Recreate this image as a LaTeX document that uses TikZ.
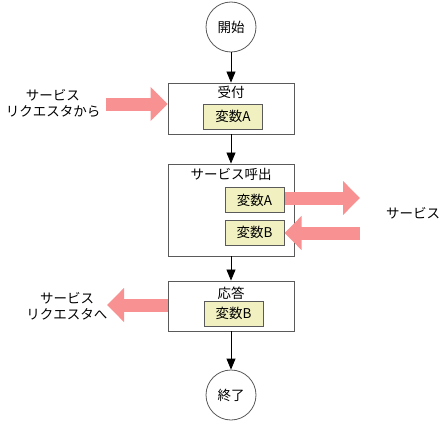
\documentclass[tikz,border=0pt]{standalone}
\usepackage{fontspec}
\setmainfont{Noto Sans CJK JP}
\usetikzlibrary{arrows.meta}
\definecolor{pinkarrow}{RGB}{248,145,145}
\definecolor{varfill}{RGB}{240,240,192}
\definecolor{edgegray}{RGB}{90,90,90}
\tikzset{
  every node/.style={font=\fontsize{13.5}{15}\selectfont, inner sep=0pt},
  term/.style={circle, draw=edgegray, line width=0.8pt, minimum size=50pt, fill=white},
  procbox/.style={draw=edgegray, line width=0.9pt, fill=white},
  varbox/.style={draw=edgegray, line width=1pt, fill=varfill, minimum width=59pt, minimum height=25pt},
  flow/.style={draw=black, line width=0.8pt, -{Triangle[length=11pt,width=9pt]}},
  fat/.style={draw=pinkarrow, line width=13pt, -{Triangle[length=17pt,width=33pt]}},
  lbl/.style={align=center}
}
\begin{document}
\begin{tikzpicture}[x=1pt,y=-1pt]
\useasboundingbox (0,0) rectangle (445,423);
% terminals
\node[term] (start) at (231,27) {開始};
\node[term] (end) at (231,395) {終了};
% boxes
\node[procbox, minimum width=126pt, minimum height=51pt] (b1) at (231,108.5) {};
\node[procbox, minimum width=126pt, minimum height=92pt] (b2) at (231,210) {};
\node[procbox, minimum width=126pt, minimum height=50pt] (b3) at (231,306) {};
% titles
\node (t1) at (231,92) {受付};
\node (t2) at (231,174.5) {サービス呼出};
\node (t3) at (231,293) {応答};
% variables
\node[varbox] (v1) at (233,116.5) {変数A};
\node[varbox] (v2a) at (254.5,200) {変数A};
\node[varbox] (v2b) at (254.5,232.5) {変数B};
\node[varbox] (v3) at (233.5,313.5) {変数B};
% flow arrows
\draw[flow] (start) -- (b1);
\draw[flow] (b1) -- (b2);
\draw[flow] (b2) -- (b3);
\draw[flow] (b3) -- (end);
% labels
\node[lbl] (reqfrom) at (53,103) {サービス\\[1pt]リクエスタから};
\node[lbl] (svc) at (413,213) {サービス};
\node[lbl] (reqto) at (67,306) {サービス\\[1pt]リクエスタへ};
% fat arrows
\coordinate (inA) at (106,104);
\coordinate (outA) at (360,198);
\coordinate (inB) at (360,233);
\coordinate (outR) at (107,305);
\draw[fat] (inA) -- (inA -| b1.west);
\draw[fat] (v2a.east |- outA) -- (outA);
\draw[fat] (inB) -- (inB -| v2b.east);
\draw[fat] (outR -| b3.west) -- (outR);
\end{tikzpicture}
\end{document}
